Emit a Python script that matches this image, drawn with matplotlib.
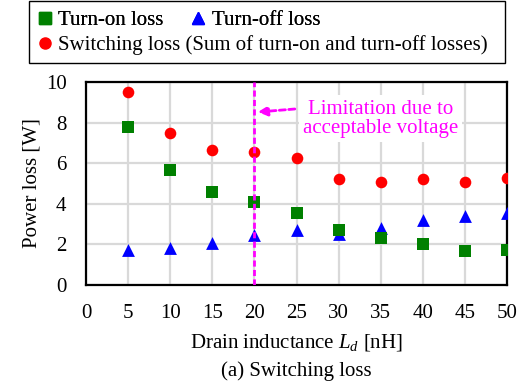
import matplotlib
matplotlib.use('Agg')
import matplotlib.pyplot as plt
from matplotlib.lines import Line2D
from matplotlib.patches import Rectangle

plt.rcParams['font.family'] = ['Liberation Serif', 'DejaVu Serif']
plt.rcParams['mathtext.fontset'] = 'custom'
plt.rcParams['mathtext.it'] = 'Liberation Serif:italic'
plt.rcParams['mathtext.rm'] = 'Liberation Serif'

# data
inductance = [5, 10, 15, 20, 25, 30, 35, 40, 45, 50]
turn_on = [7.77, 5.67, 4.60, 4.09, 3.56, 2.71, 2.30, 2.02, 1.67, 1.72]
turn_off = [1.72, 1.84, 2.05, 2.46, 2.71, 2.50, 2.79, 3.20, 3.40, 3.53]
switching = [9.49, 7.51, 6.65, 6.55, 6.27, 5.21, 5.09, 5.22, 5.07, 5.25]
limit_L = 20

W, H = 518, 387
fig = plt.figure(figsize=(W / 100, H / 100), dpi=100)
ax = fig.add_axes([86 / W, 1 - 285 / H, (507 - 86) / W, (285 - 82) / H])

fs = 15
ax.scatter(inductance, switching, marker='o', s=70, color='#ff0000', zorder=3, linewidths=0)
ax.scatter(inductance, turn_on, marker='s', s=66, color='#008000', zorder=4, linewidths=0)
ax.scatter(inductance, turn_off, marker='^', s=85, color='#0000ff', zorder=3, linewidths=0)

ax.axvline(limit_L, color='#ff00ff', lw=2, ls=(0, (2.2, 1.2)), zorder=5)

ax.set_xlim(0, 50)
ax.set_ylim(0, 10)
ax.set_xticks(range(0, 51, 5))
ax.set_yticks(range(0, 11, 2))
ax.grid(True, color='#d9d9d9', lw=1.6)
ax.set_axisbelow(True)
ax.tick_params(length=0, labelsize=fs)
ax.tick_params(axis='x', pad=14)
ax.tick_params(axis='y', pad=14)
for s in ax.spines.values():
    s.set_linewidth(1.6)
    s.set_color('black')

ax.set_ylabel('Power loss [W]', fontsize=fs, labelpad=3)
ax.set_xlabel('Drain inductance $L_d$ [nH]', fontsize=fs, labelpad=6)
fig.text(296.5 / W, 1 - 371 / H, '(a) Switching loss', ha='center', va='center', fontsize=fs)

ax.text(35.0, 8.18, 'Limitation due to\nacceptable voltage', ha='center', va='center',
        fontsize=fs, color='#ff00ff', linespacing=1.05, zorder=6,
        bbox=dict(boxstyle='square,pad=0.2', fc='white', ec='none'))
ax.annotate('', xy=(20.4, 8.52), xytext=(24.8, 8.67),
            arrowprops=dict(arrowstyle='-|>', color='#ff00ff', lw=2, ls=(0, (2.2, 1.2)),
                            mutation_scale=14, shrinkA=0, shrinkB=0),
            zorder=7)

# legend box
fig.patches.append(Rectangle((29 / W, 1 - 63 / H), (505 - 29) / W, 62 / H,
                             transform=fig.transFigure, fill=False, ec='black', lw=1.0))
h_on = Line2D([], [], ls='none', marker='s', ms=8, color='#008000')
h_off = Line2D([], [], ls='none', marker='^', ms=9, color='#0000ff')
h_sw = Line2D([], [], ls='none', marker='o', ms=8, color='#ff0000')
leg1 = fig.legend([h_on, h_off], ['Turn-on loss', 'Turn-off loss'], ncol=2, frameon=False,
                  loc='center left', bbox_to_anchor=(27 / W, 1 - 20 / H), fontsize=fs,
                  handlelength=0.7, handletextpad=0.3, columnspacing=1.3, borderpad=0)
fig.add_artist(leg1)
fig.legend([h_sw], ['Switching loss (Sum of turn-on and turn-off losses)'], frameon=False,
           loc='center left', bbox_to_anchor=(27 / W, 1 - 45 / H), fontsize=fs,
           handlelength=0.7, handletextpad=0.3, borderpad=0)

fig.savefig('out.png', dpi=100)
